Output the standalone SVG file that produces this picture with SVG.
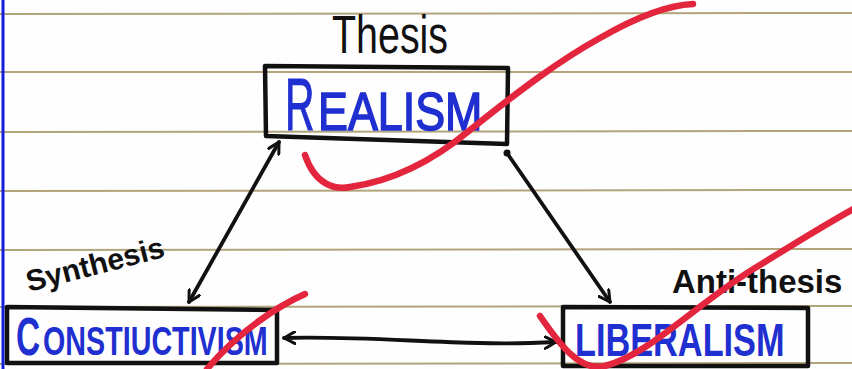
<svg xmlns="http://www.w3.org/2000/svg" width="852" height="369" viewBox="0 0 852 369">
<defs>
<marker id="ah" viewBox="0 0 14 14" refX="12" refY="7" markerWidth="14" markerHeight="14" markerUnits="userSpaceOnUse" orient="auto-start-reverse">
<path d="M1,1 L12,7 L1,13" fill="none" stroke="#111" stroke-width="3" stroke-linecap="round" stroke-linejoin="round"/>
</marker>
</defs>
<style>
.rule{stroke:#b3a47c;stroke-width:2;fill:none}
.box{fill:none;stroke:#111;stroke-width:4.5;stroke-linejoin:round}
.blue{fill:#1f2fd0;font-family:"Liberation Sans",Arial,sans-serif}
.hand{fill:#111;font-family:"Liberation Sans",Arial,sans-serif}
.conn{fill:none;stroke:#111;stroke-width:3.8;stroke-linecap:round}
.red{fill:none;stroke:#e3263e;stroke-width:6.5;stroke-linecap:round}
</style>
<rect width="852" height="369" fill="#fefefe"/>
<g id="paper">
<line class="rule" x1="0" y1="14" x2="852" y2="13"/>
<line class="rule" x1="0" y1="72" x2="852" y2="72"/>
<line class="rule" x1="0" y1="132" x2="852" y2="131"/>
<line class="rule" x1="0" y1="191" x2="852" y2="190"/>
<line class="rule" x1="0" y1="250" x2="852" y2="249"/>
<line class="rule" x1="0" y1="307" x2="852" y2="306"/>
<line class="rule" x1="0" y1="364" x2="852" y2="363"/>
<line x1="3" y1="0" x2="3" y2="369" stroke="#1420d8" stroke-width="3"/>
</g>
<g id="connectors">
<path class="conn" d="M279,142 L189,302" marker-start="url(#ah)" marker-end="url(#ah)"/>
<path class="conn" d="M507,153 L610,302" marker-end="url(#ah)"/>
<circle cx="507" cy="153" r="3.5" fill="#111"/>
<path class="conn" d="M284,338 C350,336 420,342 480,343 C510,344 535,343 556,342" marker-start="url(#ah)" marker-end="url(#ah)"/>
</g>
<g id="thesis">
<text class="hand" font-size="54" transform="translate(332,53) scale(0.73,1)">Thesis</text>
</g>
<g id="realism">
<path class="box" d="M265,66 L508,68 L507,144 L266,136 Z"/>
<text class="blue" font-size="74" stroke="#1f2fd0" stroke-width="1.2" transform="translate(285,130) scale(0.55,1)">R</text>
<text class="blue" font-size="54" stroke="#1f2fd0" stroke-width="1.6" transform="translate(318,130) scale(0.83,1)">EALISM</text>
</g>
<g id="synthesis">
<text class="hand" font-size="30" font-weight="bold" transform="translate(29,292) rotate(-14.5)">Synthesis</text>
</g>
<g id="constructivism">
<path class="box" d="M7,307 L277,310 L277,363 L7,363 Z"/>
<text class="blue" font-size="54" font-weight="bold" transform="translate(16,355) scale(0.62,1)">C</text>
<text class="blue" font-size="41" font-weight="bold" transform="translate(43,355) scale(0.70,1)">ONSTIUCTIVISM</text>
</g>
<g id="antithesis">
<text class="hand" font-size="34" font-weight="bold" transform="translate(672,293) scale(0.97,1)">Anti-thesis</text>
</g>
<g id="liberalism">
<path class="box" d="M563,307 L808,308 L808,366 L563,366 Z"/>
<text class="blue" font-size="47" font-weight="bold" transform="translate(575,356) scale(0.73,1)">LIBERALISM</text>
</g>
<g id="marks">
<path class="red" d="M305,155 C315,185 335,190 350,187 C400,180 440,155 470,130 C520,90 560,60 600,38 C640,15 670,5 693,4"/>
<path class="red" d="M305,294 C280,305 240,330 207,369"/>
<path class="red" d="M540,316 C560,345 580,372 605,366 C650,355 700,300 760,265 C800,240 830,222 855,208"/>
</g>
</svg>
